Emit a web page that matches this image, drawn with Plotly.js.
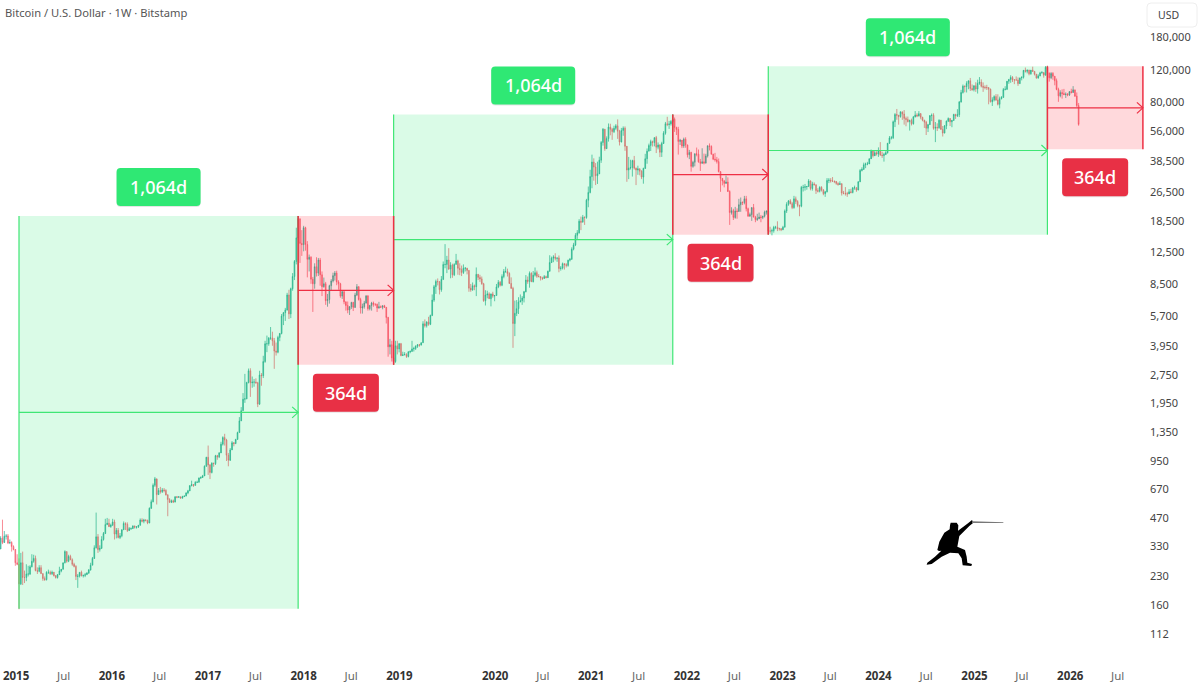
<!DOCTYPE html>
<html><head><meta charset="utf-8">
<script src="https://cdn.plot.ly/plotly-3.0.1.min.js"></script>
<style>html,body{margin:0;padding:0;background:#fff}#c{width:1200px;height:686px}</style>
</head><body><div id="c"></div>
<script>
// ---- weekly candles, one array per year, one row per quarter; open = previous close ----
const firstWeek = '2014-11-03', firstOpen = 320;
const close2014 = [366,347,375,376,345,347,330,318,270];
const high2014  = [375,460,400,385,385,360,352,335,320];
const low2014   = [320,340,345,360,340,340,310,315,260];

const close2015 = [265,208,270,225,225,235,235,257,275,285,245,243,254,
  236,222,219,240,240,236,240,230,225,233,244,249,270,
  310,275,292,280,265,258,228,229,240,230,231,233,238,
  247,262,285,325,372,318,323,360,388,433,440,422,430];
const high2015  = [300,285,305,310,245,265,260,262,300,298,295,255,262,
  262,237,228,243,248,245,245,241,232,235,257,250,270,
  315,310,298,298,285,270,262,235,240,245,233,238,240,
  250,270,290,335,502,385,335,375,395,465,470,465,438];
const low2015   = [262,152,205,205,210,215,228,232,255,270,243,235,240,
  236,216,216,217,235,232,232,228,222,222,232,240,249,
  268,270,272,279,260,255,218,198,225,228,225,226,233,
  235,245,262,283,322,305,310,320,355,385,430,420,416];

const close2016 = [447,385,403,369,377,406,439,434,402,412,412,426,419,
  420,429,458,451,458,456,442,530,574,704,762,627,660,
  650,664,660,625,590,570,581,572,610,607,610,600,612,
  616,640,657,700,710,703,730,730,770,775,790,890,995];
const high2016  = [465,460,415,415,390,408,450,445,445,420,418,428,425,
  425,431,467,468,465,462,460,535,590,720,780,690,680,
  690,680,680,670,630,600,590,590,615,615,615,612,618,
  620,645,665,705,745,715,740,745,775,785,800,900,1000];
const low2016   = [425,360,365,365,362,370,405,405,395,400,405,410,412,
  412,415,428,445,440,450,435,440,525,570,690,555,625,
  635,640,645,620,480,565,565,565,570,600,603,598,598,
  610,615,630,655,695,690,700,725,730,760,770,790,885];

const close2017 = [905,825,925,920,1015,1000,1050,1170,1270,1230,1020,960,1090,
  1190,1180,1240,1350,1560,1770,2040,2050,2510,2900,2500,2520,2520,
  2500,1920,2750,2730,3250,4050,4050,4340,4350,4200,3700,3650,4380,
  4600,5700,5950,6150,7400,5860,8000,9300,11200,15000,19000,14000,13800];
const high2017  = [1150,915,935,930,1025,1025,1060,1205,1290,1330,1250,1050,1115,
  1215,1200,1250,1365,1635,1850,2200,2790,2530,2980,2990,2700,2620,
  2640,2530,2900,2820,3490,4200,4480,4400,4980,4700,4350,4110,4470,
  4620,5850,6000,6310,7600,7890,8100,9700,11400,17000,19666,19000,16500];
const low2017   = [800,760,815,885,905,965,985,1050,1150,1150,950,890,950,
  1090,1140,1170,1240,1350,1560,1770,1950,2040,2480,2100,2350,2380,
  2470,1850,1900,2410,2650,3200,3650,3950,4250,3950,2970,3500,3600,
  4180,4550,5100,5370,6100,5500,5560,7800,8900,10800,15000,11000,12000];

const close2018 = [17000,13800,11500,11800,9000,8500,10500,9700,11400,9500,8200,8500,6900,
  7000,8300,8800,9400,9700,8700,8500,7300,7700,6800,6500,6150,6400,
  6750,6350,7400,8200,7000,6300,6400,6700,7300,6250,6500,6700,6600,
  6600,6300,6400,6360,6480,6350,5600,3900,4000,3400,3250,3950,3800,4050];
const high2018  = [17400,17200,14400,12200,11950,9250,10950,11800,11700,11700,9900,9180,8700,
  7500,8400,9000,9750,9950,9990,8880,8600,7800,7770,6830,6830,6450,
  6800,6800,7600,8470,8240,7150,6650,6880,7400,7400,6550,6800,6820,
  6650,6650,6800,6500,6500,6550,6370,5650,4300,4200,3600,4200,4200,4090];
const low2018   = [12700,12800,9200,9900,8500,6000,8000,9300,9350,8300,7300,8100,6550,
  6400,6650,7820,8640,8850,8350,7900,7150,7050,6600,6100,5900,5780,
  6230,6070,6300,7300,6900,5880,5880,6250,6650,6100,6120,6100,6400,
  6450,6000,6250,6330,6200,6300,5200,3450,3550,3250,3122,3200,3550,3640];

const close2019 = [3500,3530,3550,3460,3660,3680,3800,3820,3930,4000,3980,4100,5180,
  5060,5300,5150,5750,6950,8200,8750,8720,7900,8980,10800,10800,11400,
  10200,10700,9500,10800,11280,10300,10130,9770,10300,10300,10030,8050,7880,
  8300,8200,9550,9200,9030,8500,6900,7400,7500,7070,7500,7300,7350];
const high2019  = [4090,3670,3650,3600,3700,3730,4200,3900,3970,4030,4040,4120,5350,
  5470,5350,5650,5800,7450,8380,8950,9080,8800,9350,11200,13880,12000,
  13200,11100,10900,10950,12300,11450,10950,10650,10800,10450,10350,10050,8480,
  8640,8420,10400,9600,9500,9300,8600,7850,7800,7650,7520,7700,7400];
const low2019   = [3470,3480,3510,3400,3420,3600,3680,3680,3750,3850,3900,3980,4100,
  4950,4950,5060,5100,5700,6800,7500,8330,7450,7700,8900,10300,9700,
  10100,9100,9150,9350,10800,9500,9450,9350,9600,9900,9550,7700,7700,
  7800,7850,7300,8900,8700,8400,6800,6500,7100,7040,6430,7150,6850];

const close2020 = [8180,8650,8350,9300,9900,9900,9650,8530,8030,5200,5900,6250,6780,
  6900,7130,7700,8900,8750,9670,8720,9450,9750,9330,9300,9120,9080,
  9290,9170,9920,11050,11670,11850,11640,11700,10260,10320,10900,10770,10670,
  11380,11500,13040,13750,15480,15960,18420,18200,19350,19280,23900,26300,32000];
const high2020  = [8480,8900,8800,9550,10200,10500,10250,9800,9200,8190,6900,6950,7200,
  7450,7300,7780,9470,9300,9900,9800,9950,10400,10000,9580,9300,9270,
  9470,9400,10000,12100,11900,12100,12400,11750,12060,10580,11050,10800,10960,
  11450,11700,13350,14100,15900,16500,18900,19500,19900,19550,24300,28300,34800];
const low2020   = [7350,8050,8220,8250,9100,9720,9300,8500,8000,3850,4450,5700,5850,
  6780,6550,6750,7650,8500,8100,8700,8650,9300,9150,9200,8850,8900,
  9050,9100,9150,9900,11000,11100,11350,11150,9800,10000,10150,10130,10400,
  10500,11200,11450,12850,13550,14800,15800,16500,18200,17600,19000,21900,26000];

const close2021 = [38300,36000,32300,33100,39200,48800,57500,45200,51200,59000,57400,55800,58100,
  59900,56100,49100,56600,58200,46500,34700,35600,35800,39000,35500,34700,35200,
  34200,31800,35400,39900,43800,47000,49300,48800,51800,46000,47300,43200,48200,
  54700,61500,60900,61300,63300,65000,58700,57300,49400,50100,46700,50800,47300];
const high2021  = [41950,40100,37800,38500,40900,49700,58300,57500,52600,61700,61500,58400,60000,
  61200,64900,57000,58400,59500,59500,46700,40800,39400,39400,41300,35750,36600,
  35400,34600,35700,42400,45300,48100,50500,49900,51900,52900,48800,47700,49200,
  56100,62900,67000,63700,64300,69000,66400,59300,59200,51000,49500,51800,52000];
const low2021   = [27700,30400,28800,29200,33000,37900,46900,44000,45000,49300,53300,50400,54800,
  57000,51000,47000,48800,53000,44000,30000,31000,34900,32000,34900,28800,32700,
  32500,31000,29300,35200,37500,43800,43900,46400,46500,42800,44800,40700,40800,
  47900,53700,59700,57700,60100,62300,55600,53500,42000,47300,45500,45600,45700];

const close2022 = [41900,43100,36300,38200,42400,42200,38400,37700,38400,37800,41300,46800,46400,
  42200,39700,39400,38500,34000,31300,30300,29400,29900,26600,20500,21000,19300,
  20900,20800,22600,23300,23200,24300,21500,19600,20000,21800,19400,18800,19000,
  19400,19300,19600,20600,20900,16300,16300,16400,17100,17100,16800,16800,16600];
const high2022  = [47500,44500,43500,38900,42600,45800,44700,39800,45400,42500,42400,47000,48200,
  47100,42400,42900,40800,40000,34200,31400,30700,32400,31700,27000,21900,21500,
  22000,21600,24300,24700,23500,25200,25200,21800,20500,21900,22800,19700,20200,
  20500,19900,19700,21000,21000,21000,17200,16800,17400,17400,18400,17000,16900];
const low2022   = [40500,39700,34000,35700,36300,41100,38000,34300,37500,37200,37600,40500,44200,
  42000,39200,38500,37600,33700,26500,28700,28000,29300,26500,17600,20000,18700,
  19000,19000,20700,20700,22500,22700,20800,19500,19500,18500,19300,18200,18500,
  18900,18200,18900,19300,20000,15700,15800,15476,16000,16700,16300,16400,16300];

const close2023 = [17100,20900,22700,23700,22900,21800,24300,23500,22400,22200,28000,28000,28200,
  28300,30300,27600,29200,28900,26900,26700,28000,27100,25900,26500,30500,30600,
  30300,30300,30100,29400,29000,29300,26100,26000,25900,25800,26500,26300,27900,
  27900,27100,30000,34500,35000,37000,37400,37400,39900,43800,41400,43000,42300];
const high2023  = [17400,21300,23300,23900,24200,23400,25200,25000,23900,22600,28500,28900,29200,
  28500,31000,30500,30000,29800,29000,27700,28400,28400,27400,26800,31400,31400,
  31400,31800,30400,30300,29800,30200,29400,26800,28100,26500,27400,27500,28000,
  28600,28000,30200,35100,35900,38000,38000,38400,40000,44700,43400,44400,43800];
const low2023   = [16500,17100,20400,22300,22700,21400,21500,22800,21900,19600,21900,26600,26900,
  27200,28300,27000,26900,28700,25800,26300,26300,26600,25400,24900,26300,29500,
  29700,29900,29500,28900,28600,28900,25300,25700,25300,24900,25800,26000,26000,
  27200,26500,27000,29900,34100,34700,35500,36800,37500,40300,40500,42100,41500];

const close2024 = [43900,41700,41500,42000,43000,48300,51600,51700,63000,68900,68400,67200,71300,
  69300,65700,64900,63100,64000,61500,66900,68500,67700,69600,66600,64300,62700,
  58200,60800,68000,68300,58100,58800,58500,64200,57300,54800,59900,63500,65600,
  63000,64000,69000,67900,68800,80400,90500,97800,97300,101200,104500,95100,93700,98300];
const high2024  = [45900,49000,43500,42900,43800,48500,52800,52900,64000,70100,73800,68100,71500,
  71300,72800,67200,67200,64700,65500,67700,71900,70000,71900,70200,67000,64500,
  63700,61400,68300,69800,70000,62800,61800,65000,64500,59800,60500,64000,66500,
  65700,64500,69500,69500,73600,81500,93500,99800,98800,104000,105000,108300,99900,98900];
const low2024   = [40800,41500,40300,38500,41900,42500,48000,50600,50900,59000,64600,60800,66300,
  64500,60800,59600,62500,56500,60200,60800,66500,66700,67300,65000,63400,58400,
  53500,55500,60700,63500,57100,49000,56200,57800,57200,52500,54600,57500,62800,
  59800,58900,64000,65300,66800,66800,80000,89300,90700,90500,94200,92200,92500,91700];

const close2025 = [94500,101300,102700,97700,96500,96200,96200,94200,80700,82600,86000,82400,78200,
  83800,85100,93800,94300,104000,106400,109000,105700,105700,105500,101000,108400,109200,
  119000,117500,119400,114100,119300,117500,113500,108300,111100,115300,115700,112100,123500,
  114800,108600,114500,110600,104700,94000,86800,90400,89300,88200,88600,87800,91500];
const high2025  = [102700,106000,109500,106500,102500,98800,99500,96500,95000,85300,87400,88700,88500,
  86000,86500,95700,97800,104300,106600,112000,110800,106800,110400,109000,108500,110500,
  119500,123200,120200,119800,119500,124500,117600,113500,113300,116800,117900,113500,125500,
  126200,115900,116400,116400,110800,107500,96000,93000,94100,94600,90600,89900,91800];
const low2025   = [91200,89300,99500,96300,91200,94100,93400,78200,80000,76600,81100,81600,77100,
  74400,83100,85000,92900,93300,100700,102000,103000,100300,105100,98200,100700,105100,
  107500,115800,114700,111900,112700,116800,111700,107300,107300,110700,114400,108700,111500,
  102000,103500,106700,105900,98900,93000,80600,85200,83900,87600,84500,86400,86700];

const close2026 = [90500,93500,86500,77000,61000];
const high2026  = [94800,97900,93500,90500,79500];
const low2026   = [89400,90800,85700,75500,60000];

// ---- cycle rectangles ----
const greenStart = ['2015-01-12','2018-12-10','2022-11-07'];
const greenEnd   = ['2017-12-11','2021-11-08','2025-10-06'];
const greenTop   = [19666,69000,125000];
const greenLow   = [153,3122,15600];
const redStart   = ['2017-12-11','2021-11-08','2025-10-06'];
const redEnd     = ['2018-12-10','2022-11-07','2026-10-05'];
const redTop     = [19666,69000,125000];
const redLow     = [3122,15600,44800];
const greenLabel = '1,064d', redLabel = '364d';

// ---- axes ----
const priceTicks = [180000,120000,80000,56000,38500,26500,18500,12500,8500,5700,3950,2750,1950,1350,950,670,470,330,230,160,112];
const yearTicks  = ['2015','2016','2017','2018','2019','2020','2021','2022','2023','2024','2025','2026'];
const julyTicks  = ['2015','2016','2017','2018','2020','2021','2022','2023','2024','2025','2026'];
const xRange = ['2014-10-31 14:00','2026-10-13'];
const yRange = [112*Math.pow(10,-0.14),180000*Math.pow(10,0.198)];
const chartTitle = 'Bitcoin / U.S. Dollar · 1W · Bitstamp';
const currency = 'USD';

const FONT = '"Noto Sans", "Open Sans", sans-serif';
const UP = '#2bab93', UPF = '#6cc7b5', DN = '#f55a6a', DNF = '#f7a0a8';
const GREENLINE = '#3fe675', REDLINE = '#ee2f44';
const GREENFILL = 'rgba(0,230,90,0.145)', REDFILL = 'rgba(255,0,20,0.15)';

const closes = [].concat(close2014,close2015,close2016,close2017,close2018,close2019,close2020,close2021,close2022,close2023,close2024,close2025,close2026);
const highs  = [].concat(high2014,high2015,high2016,high2017,high2018,high2019,high2020,high2021,high2022,high2023,high2024,high2025,high2026);
const lows   = [].concat(low2014,low2015,low2016,low2017,low2018,low2019,low2020,low2021,low2022,low2023,low2024,low2025,low2026);
const opens  = closes.map((c,i)=> i===0 ? firstOpen : closes[i-1]);
const t0 = Date.parse(firstWeek+'T00:00:00Z');
const dates = closes.map((_,i)=> new Date(t0+i*7*864e5).toISOString().slice(0,10));

const candles = {type:'candlestick',x:dates,open:opens,high:highs,low:lows,close:closes,
  whiskerwidth:0,hoverinfo:'skip',
  increasing:{line:{color:UP,width:0.7},fillcolor:UPF},
  decreasing:{line:{color:DN,width:0.7},fillcolor:DNF}};

const shapes = [], annotations = [];
const midDate = (a,b)=> new Date((Date.parse(a+'T00:00:00Z')+Date.parse(b+'T00:00:00Z'))/2).toISOString().slice(0,10);
const midPrice = (a,b)=> Math.sqrt(a*b);
function roundBox(w,h,r){
  const x=w/2,y=h/2;
  return `M ${-x+r} ${-y} L ${x-r} ${-y} Q ${x} ${-y} ${x} ${-y+r} L ${x} ${y-r} Q ${x} ${y} ${x-r} ${y} L ${-x+r} ${y} Q ${-x} ${y} ${-x} ${y-r} L ${-x} ${-y+r} Q ${-x} ${-y} ${-x+r} ${-y} Z`;
}
function offsetBox(w,h,r,dy){ // rounded box shifted by dy px upward from the anchor
  const x=w/2,t=dy+h/2,b=dy-h/2;
  return `M ${-x+r} ${b} L ${x-r} ${b} Q ${x} ${b} ${x} ${b+r} L ${x} ${t-r} Q ${x} ${t} ${x-r} ${t} L ${-x+r} ${t} Q ${-x} ${t} ${-x} ${t-r} L ${-x} ${b+r} Q ${-x} ${b} ${-x+r} ${b} Z`;
}
function addRange(x0,x1,top,low,fill,line,lineW,label,labelColor,labelPrice,dy,boxW){
  shapes.push({type:'rect',xref:'x',yref:'y',x0,x1,y0:low,y1:top,fillcolor:fill,line:{width:0},layer:'above'});
  [x0,x1].forEach(x=>shapes.push({type:'line',xref:'x',yref:'y',x0:x,x1:x,y0:low,y1:top,line:{color:line,width:lineW},layer:'above'}));
  const m = midPrice(top,low);
  shapes.push({type:'line',xref:'x',yref:'y',x0,x1,y0:m,y1:m,line:{color:line,width:1.2},layer:'above'});
  shapes.push({type:'path',xref:'x',yref:'y',xsizemode:'pixel',ysizemode:'pixel',xanchor:x1,yanchor:m,
    path:'M -6 -5.5 L 0 0 L -6 5.5',line:{color:line,width:1.2},fillcolor:'rgba(0,0,0,0)',layer:'above'});
  const cx = midDate(x0,x1);
  shapes.push({type:'path',xref:'x',yref:'y',xsizemode:'pixel',ysizemode:'pixel',xanchor:cx,yanchor:labelPrice,
    path:offsetBox(boxW,38,4,dy-1),fillcolor:'rgba(0,0,0,0.10)',line:{width:0},layer:'above'});
  shapes.push({type:'path',xref:'x',yref:'y',xsizemode:'pixel',ysizemode:'pixel',xanchor:cx,yanchor:labelPrice,
    path:offsetBox(boxW,38,4,dy),fillcolor:labelColor,line:{width:0},layer:'above'});
  annotations.push({xref:'x',yref:'y',x:cx,y:Math.log10(labelPrice),yshift:dy,text:label,showarrow:false,
    font:{family:FONT,size:18,weight:500,color:'#ffffff'},xanchor:'center',yanchor:'middle'});
}
greenStart.forEach((s,i)=>addRange(s,greenEnd[i],greenTop[i],greenLow[i],GREENFILL,GREENLINE,1.2,greenLabel,'#2fe874',greenTop[i],29,84));
redStart.forEach((s,i)=>addRange(s,redEnd[i],redTop[i],redLow[i],REDFILL,REDLINE,1.5,redLabel,'#e83045',redLow[i],-28,66));

// fencer logo (pixel outline, anchored in the plot)
const fencer = [[152,68],[170,68],[175,76],[174,92],[204,70],[216,60],[220,68],[208,78],[190,96],[178,108],[172,140],[195,150],[200,170],[202,188],[216,192],[214,198],[188,196],[185,175],[175,160],[150,158],[125,170],[95,192],[80,194],[82,188],[105,170],[124,152],[117,153],[112,150],[118,125],[133,98],[149,88],[150,76]];
const sword = [[216,64],[310,67],[310,69],[216,69]];
const toPath = pts => 'M '+pts.map(p=>`${p[0]/3} ${-p[1]/3}`).join(' L ')+' Z';
const logoAnchor = {xanchor:900/1145,yanchor:1-500/660};
shapes.push({type:'path',xref:'paper',yref:'paper',xsizemode:'pixel',ysizemode:'pixel',...logoAnchor,path:toPath(fencer),fillcolor:'#000',line:{width:0},layer:'above'});
shapes.push({type:'path',xref:'paper',yref:'paper',xsizemode:'pixel',ysizemode:'pixel',...logoAnchor,path:toPath(sword),fillcolor:'#777',line:{width:0},layer:'above'});

// currency box
shapes.push({type:'path',xref:'paper',yref:'paper',xsizemode:'pixel',ysizemode:'pixel',xanchor:1172/1145,yanchor:1-15/660,
  path:roundBox(50,24,4),fillcolor:'#fff',line:{color:'#eeeeee',width:1},layer:'above'});
annotations.push({xref:'paper',yref:'paper',x:1156/1145,y:1-15/660,text:currency,showarrow:false,xanchor:'left',yanchor:'middle',
  font:{family:FONT,size:10.5,color:'#444'}});
annotations.push({xref:'paper',yref:'paper',x:3/1145,y:1-13/660,text:chartTitle,showarrow:false,xanchor:'left',yanchor:'middle',
  font:{family:FONT,size:11.2,color:'#555'}});

const xVals = [], xText = [];
yearTicks.forEach(y=>{xVals.push(y+'-01-01');xText.push('<b>'+y+'</b>');});
julyTicks.forEach(y=>{xVals.push(y+'-07-01');xText.push('<span style="color:#666">Jul</span>');});

const layout = {width:1200,height:686,margin:{l:0,r:55,t:0,b:26,pad:0},
  paper_bgcolor:'#fff',plot_bgcolor:'#fff',showlegend:false,dragmode:false,boxgap:0.45,
  xaxis:{type:'date',range:xRange,tickmode:'array',tickvals:xVals,ticktext:xText,tickangle:0,showgrid:false,zeroline:false,showline:false,ticks:'',
    rangeslider:{visible:false},fixedrange:true,ticklabelstandoff:7,automargin:false,tickfont:{family:FONT,size:11.5,color:'#333'}},
  yaxis:{type:'log',side:'right',range:yRange.map(Math.log10),tickmode:'array',tickvals:priceTicks,
    ticktext:priceTicks.map(v=>v.toLocaleString('en-US')),showgrid:false,zeroline:false,showline:false,ticks:'',
    fixedrange:true,ticklabelstandoff:4,automargin:false,tickfont:{family:FONT,size:11,color:'#444'}},
  shapes,annotations};
Plotly.newPlot('c',[candles],layout,{displayModeBar:false,staticPlot:true});
</script></body></html>
